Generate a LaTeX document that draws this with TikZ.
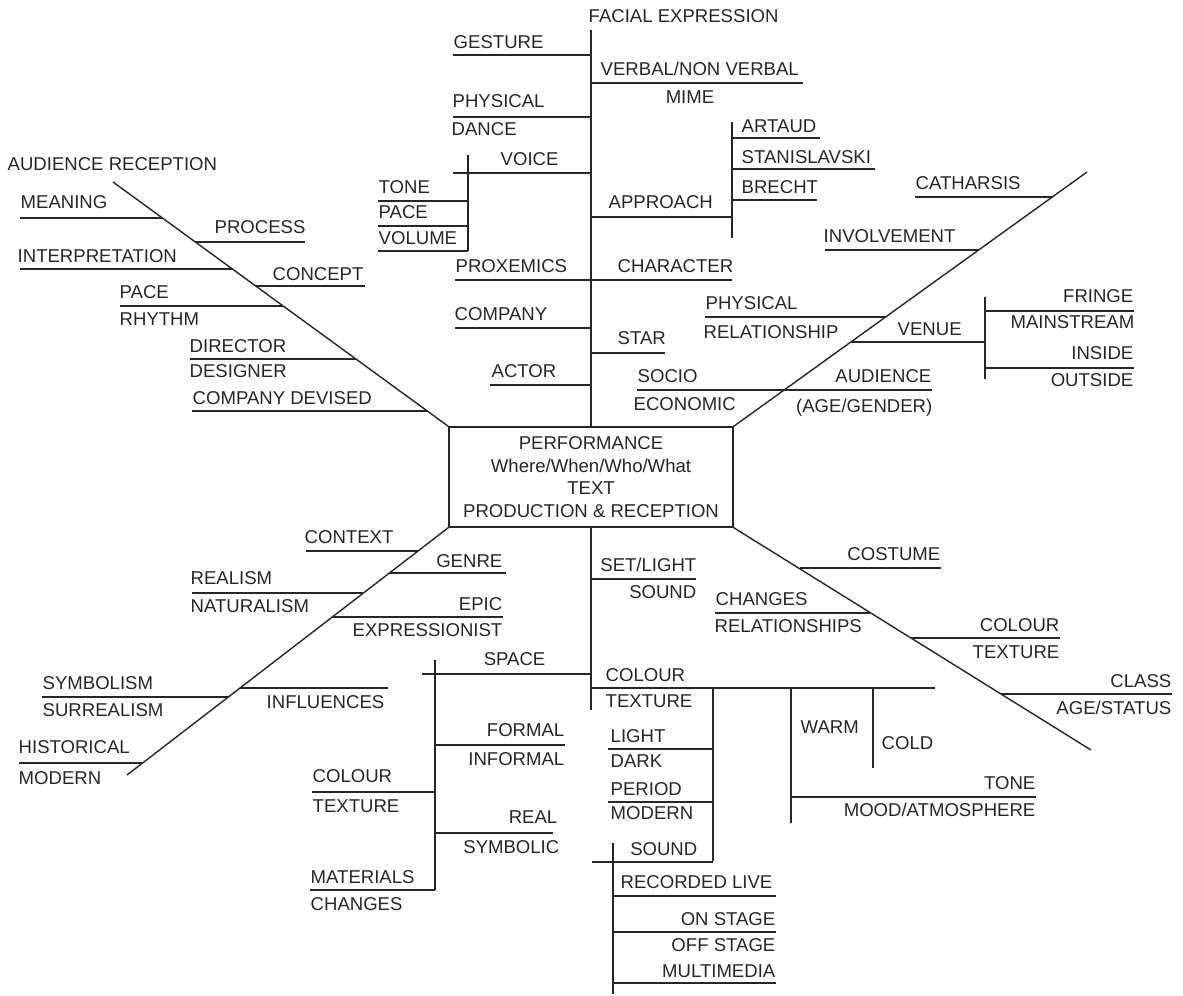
\documentclass[tikz,border=0pt]{standalone}
\usepackage{fontspec}
\setmainfont{Liberation Sans}
\newcommand\lblsize{\fontsize{13.2}{16.2}\selectfont}
\def\boxtext{PERFORMANCE\\Where/When/Who/What\\TEXT\\PRODUCTION \& RECEPTION}

\begin{document}
\begin{tikzpicture}[x=0.025cm,y=-0.025cm,line width=1pt,color=black!85,
    lbl/.style={inner sep=0pt,text height=1.38ex,text depth=0pt,font=\lblsize},
    lw/.style={lbl,anchor=west},
    le/.style={lbl,anchor=east}]
    \useasboundingbox (0,0) rectangle (1183,995);
    \node[draw,lbl,text height=,align=center,minimum width=7.1cm,minimum height=2.5cm] (perf) at (591,477) {\boxtext};
    \coordinate (top) at (591,30);
    \coordinate (bot) at (591,710);
    \coordinate (ul) at (113,182);
    \coordinate (ur) at (1087,172);
    \coordinate (ll) at (127,775);
    \coordinate (lr) at (1091,750);
    \draw (perf.north) -- (top) (perf.south) -- (bot);
    \draw (perf.north west) -- (ul) (perf.north east) -- (ur);
    \draw (perf.south west) -- (ll) (perf.south east) -- (lr);

    \node[lw] (facial) at (588,17) {FACIAL EXPRESSION};
    \draw (453,55) -- (591,55) (591,83) -- (803,83) (453,117) -- (591,117);
    \node[lw] (gesture) at (453,43) {GESTURE};
    \node[lw] (verbal) at (600,70) {VERBAL/NON VERBAL};
    \node[lbl] (mime) at (690,98) {MIME};
    \node[lw] (physA) at (452,102) {PHYSICAL};
    \node[lw] (dance) at (451,130) {DANCE};
    \draw (453,173) -- (591,173) (468,155) -- (468,251);
    \foreach \y in {201,226,251} \draw (378,\y) -- (468,\y);
    \node[lw] (voice) at (500,160) {VOICE};
    \node[lw] (toneA) at (378,188) {TONE};
    \node[lw] (paceA) at (378,213) {PACE};
    \node[lw] (volume) at (378,239) {VOLUME};
    \draw (591,217) -- (732,217) (732,122) -- (732,238);
    \draw (732,138) -- (820,138) (732,169) -- (875,169) (732,200) -- (817,200);
    \node[lw] (approach) at (608,203) {APPROACH};
    \node[lw] (artaud) at (741,127) {ARTAUD};
    \node[lw] (stan) at (741,158) {STANISLAVSKI};
    \node[lw] (brecht) at (741,188) {BRECHT};
    \draw (455,280) -- (732,280) (455,328) -- (591,328) (591,353) -- (665,353) (490,385) -- (591,385);
    \node[lw] (proxemics) at (455,267) {PROXEMICS};
    \node[lw] (character) at (617,267) {CHARACTER};
    \node[lw] (companyA) at (454,315) {COMPANY};
    \node[lw] (star) at (617,339) {STAR};
    \node[lw] (actor) at (491,372) {ACTOR};
    \draw (637,390) -- (932,390);
    \node[lw] (socio) at (637,377) {SOCIO};
    \node[lw] (economic) at (633,405) {ECONOMIC};
    \node[le] (audience) at (932,377) {AUDIENCE};
    \node[le] (agegender) at (933,407) {(AGE/GENDER)};

    \draw (915,197) -- (1052,197) (825,250) -- (979,250) (705,317) -- (886,317);
    \node[lw] (catharsis) at (915,184) {CATHARSIS};
    \node[lw] (involvement) at (823,237) {INVOLVEMENT};
    \node[lw] (physB) at (705,304) {PHYSICAL};
    \node[lw] (relationship) at (703,333) {RELATIONSHIP};
    \draw (851,342) -- (985,342) (985,297) -- (985,379);
    \draw (985,311) -- (1134,311) (985,368) -- (1134,368);
    \node[lw] (venue) at (897,330) {VENUE};
    \node[le] (fringe) at (1134,297) {FRINGE};
    \node[le] (mainstream) at (1135,323) {MAINSTREAM};
    \node[le] (inside) at (1134,354) {INSIDE};
    \node[le] (outside) at (1134,381) {OUTSIDE};

    \node[lw] (audrec) at (7,165) {AUDIENCE RECEPTION};
    \draw (20,218) -- (162,218) (195,242) -- (305,242) (20,269) -- (232,269) (256,286) -- (365,286);
    \draw (120,306) -- (283,306) (190,359) -- (356,359) (192,411) -- (427,411);
    \node[lw] (meaning) at (20,203) {MEANING};
    \node[lw] (process) at (214,228) {PROCESS};
    \node[lw] (interp) at (17,257) {INTERPRETATION};
    \node[lw] (concept) at (272,275) {CONCEPT};
    \node[lw] (paceB) at (119,293) {PACE};
    \node[lw] (rhythm) at (119,320) {RHYTHM};
    \node[lw] (director) at (189,347) {DIRECTOR};
    \node[lw] (designer) at (189,372) {DESIGNER};
    \node[lw] (devised) at (192,399) {COMPANY DEVISED};

    \draw (306,551) -- (418,551) (389,573) -- (506,573) (192,593) -- (363,593) (332,617) -- (503,617);
    \draw (240,688) -- (388,688) (42,697) -- (228,697) (19,763) -- (142,763);
    \node[lw] (context) at (304,538) {CONTEXT};
    \node[le] (genre) at (503,562) {GENRE};
    \node[lw] (realism) at (190,579) {REALISM};
    \node[lw] (naturalism) at (190,607) {NATURALISM};
    \node[le] (epic) at (503,605) {EPIC};
    \node[le] (expressionist) at (503,631) {EXPRESSIONIST};
    \node[lw] (influences) at (266,703) {INFLUENCES};
    \node[lw] (symbolism) at (42,684) {SYMBOLISM};
    \node[lw] (surrealism) at (42,711) {SURREALISM};
    \node[lw] (historical) at (18,748) {HISTORICAL};
    \node[lw] (modernA) at (18,779) {MODERN};

    \draw (591,579) -- (696,579);
    \node[le] (setlight) at (697,566) {SET/LIGHT};
    \node[le] (soundA) at (697,593) {SOUND};
    \draw (422,674) -- (591,674) (435,660) -- (435,890);
    \draw (435,745) -- (565,745) (312,792) -- (435,792) (435,833) -- (553,833) (310,890) -- (435,890);
    \node[le] (space) at (546,660) {SPACE};
    \node[le] (formal) at (565,731) {FORMAL};
    \node[le] (informal) at (565,760) {INFORMAL};
    \node[lw] (colourA) at (312,777) {COLOUR};
    \node[lw] (textureA) at (312,807) {TEXTURE};
    \node[le] (real) at (558,818) {REAL};
    \node[le] (symbolic) at (560,848) {SYMBOLIC};
    \node[lw] (materials) at (310,878) {MATERIALS};
    \node[lw] (changesA) at (310,905) {CHANGES};

    \draw (591,688) -- (935,688) (713,688) -- (713,861);
    \draw (608,749) -- (713,749) (608,802) -- (713,802) (592,862) -- (713,862);
    \node[lw] (colourB) at (605,676) {COLOUR};
    \node[lw] (textureB) at (605,702) {TEXTURE};
    \node[lw] (light) at (610,737) {LIGHT};
    \node[lw] (dark) at (610,762) {DARK};
    \node[lw] (period) at (610,790) {PERIOD};
    \node[lw] (modernB) at (610,814) {MODERN};
    \node[le] (soundB) at (698,850) {SOUND};
    \draw (613,843) -- (613,994);
    \foreach \y in {896,932,983} \draw (613,\y) -- (776,\y);
    \node[lw] (recorded) at (620,883) {RECORDED LIVE};
    \node[le] (onstage) at (776,920) {ON STAGE};
    \node[le] (offstage) at (776,946) {OFF STAGE};
    \node[le] (multimedia) at (776,972) {MULTIMEDIA};
    \draw (791,688) -- (791,823) (873,688) -- (873,768) (791,797) -- (1036,797);
    \node[lw] (warm) at (800,728) {WARM};
    \node[lw] (cold) at (881,744) {COLD};
    \node[le] (toneB) at (1036,784) {TONE};
    \node[le] (mood) at (1036,811) {MOOD/ATMOSPHERE};

    \draw (800,568) -- (941,568) (715,613) -- (870,613) (911,638) -- (1060,638) (1001,694) -- (1172,694);
    \node[le] (costume) at (941,555) {COSTUME};
    \node[lw] (changesB) at (715,600) {CHANGES};
    \node[lw] (relationships) at (714,627) {RELATIONSHIPS};
    \node[le] (colourC) at (1060,626) {COLOUR};
    \node[le] (textureC) at (1060,653) {TEXTURE};
    \node[le] (class) at (1172,682) {CLASS};
    \node[le] (agestatus) at (1172,709) {AGE/STATUS};
\end{tikzpicture}
\end{document}
